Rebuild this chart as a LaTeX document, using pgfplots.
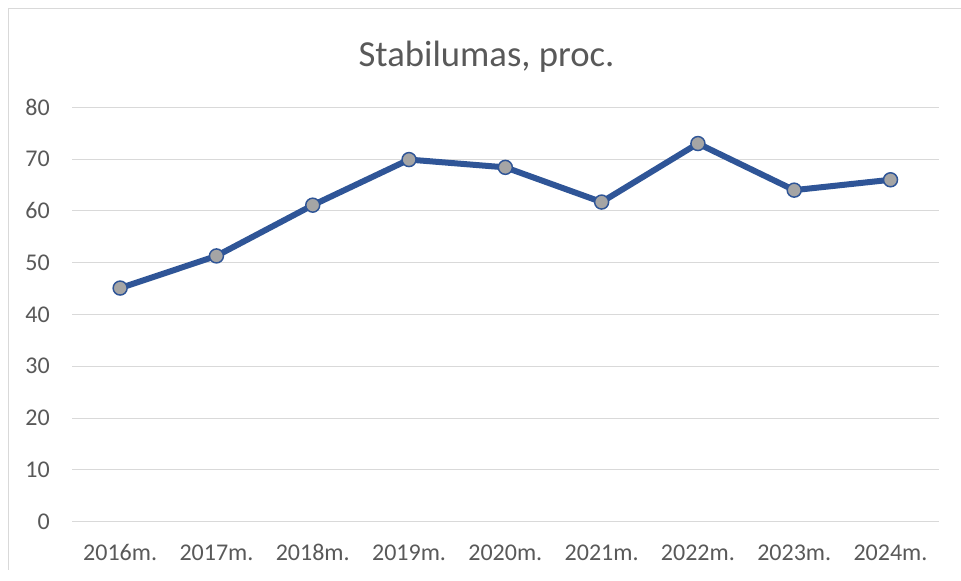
\documentclass[border=0pt]{standalone}
\usepackage{pgfplots}
\pgfplotsset{compat=1.18}
\usepackage{fontspec}
\setmainfont{Carlito}
\definecolor{lineblue}{HTML}{2F5597}
\definecolor{markgray}{HTML}{A5A5A5}
\definecolor{gridgray}{HTML}{D9D9D9}
\definecolor{txtgray}{HTML}{595959}
\begin{document}
\begin{tikzpicture}
\useasboundingbox (0,0) rectangle (720.75pt,435.75pt);
\fill[white] (0,0) rectangle (720.75pt,435.75pt);
\draw[gridgray, line width=0.75pt] (6pt,8.25pt) -- (6pt,429pt) -- (720.75pt,429pt);
\node[anchor=base, text=txtgray, font=\fontsize{27.5pt}{33pt}\selectfont, inner sep=0pt] at (364.9pt,385.7pt) {Stabilumas, proc.};
\begin{axis}[
  at={(54pt,44.5pt)}, anchor=south west,
  scale only axis, width=650pt, height=310.8pt,
  xmin=-0.5, xmax=8.5, ymin=0, ymax=80,
  xtick={0,...,8},
  xticklabels={2016m.,2017m.,2018m.,2019m.,2020m.,2021m.,2022m.,2023m.,2024m.},
  ytick={0,10,...,80},
  ymajorgrids,
  major grid style={gridgray, line width=0.75pt},
  axis line style={draw=none},
  major tick length=0pt,
  tick label style={text=txtgray, font=\fontsize{18pt}{21pt}\selectfont},
  /pgf/number format/assume math mode=true,
  xticklabel style={anchor=base, inner sep=0pt, yshift=-29.5pt},
  yticklabel style={anchor=east, inner sep=0pt, xshift=-16.5pt},
  clip=false,
]
\addplot[lineblue, line width=4.5pt, mark=*, mark size=5.25pt,
  mark options={fill=markgray, draw=lineblue, line width=1.1pt}]
  coordinates {(0,45.1) (1,51.3) (2,61.1) (3,69.9) (4,68.4) (5,61.7) (6,73.0) (7,64.0) (8,66.0)};
\end{axis}
\end{tikzpicture}
\end{document}
